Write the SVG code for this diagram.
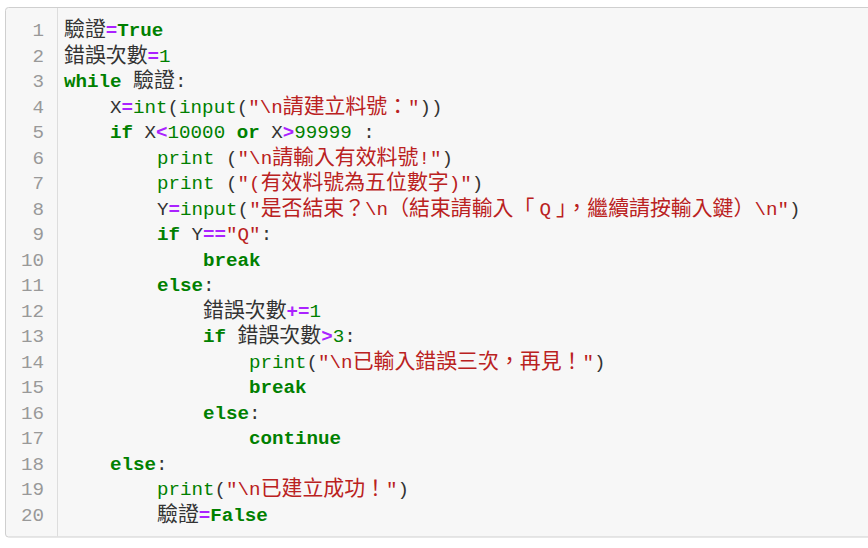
<svg xmlns="http://www.w3.org/2000/svg" width="868" height="548" viewBox="0 0 868 548">
<style>
text{font-family:"Liberation Mono","DejaVu Sans Mono",monospace;font-size:19.2px;fill:#333;white-space:pre}
.ln{fill:#999;text-anchor:end}
.k{fill:#008000;font-weight:bold}
.b{fill:#008000}
.n{fill:#008000}
.o{fill:#aa22ff;font-weight:bold}
.s{fill:#ba2121}
.c{font-family:"Noto Sans CJK TC","Noto Sans CJK SC",sans-serif;font-size:20.9px;font-weight:normal}
</style>
<rect x="5.5" y="7.5" width="900" height="529.5" rx="3" fill="#f7f7f7" stroke="#cfcfcf"/>
<line x1="57.5" y1="8" x2="57.5" y2="536.5" stroke="#ddd"/>
<g id="gutter">
<text class="ln" x="44" y="36">1</text>
<text class="ln" x="44" y="61.5">2</text>
<text class="ln" x="44" y="87">3</text>
<text class="ln" x="44" y="112.5">4</text>
<text class="ln" x="44" y="138">5</text>
<text class="ln" x="44" y="163.5">6</text>
<text class="ln" x="44" y="189">7</text>
<text class="ln" x="44" y="214.5">8</text>
<text class="ln" x="44" y="240">9</text>
<text class="ln" x="44" y="265.5">10</text>
<text class="ln" x="44" y="291">11</text>
<text class="ln" x="44" y="316.5">12</text>
<text class="ln" x="44" y="342">13</text>
<text class="ln" x="44" y="367.5">14</text>
<text class="ln" x="44" y="393">15</text>
<text class="ln" x="44" y="418.5">16</text>
<text class="ln" x="44" y="444">17</text>
<text class="ln" x="44" y="469.5">18</text>
<text class="ln" x="44" y="495">19</text>
<text class="ln" x="44" y="520.5">20</text>
</g>
<g id="code">
<text x="64" y="36"><tspan class="c">驗證</tspan><tspan class="o">=</tspan><tspan class="k">True</tspan></text>
<text x="64" y="61.5"><tspan class="c">錯誤次數</tspan><tspan class="o">=</tspan><tspan class="n">1</tspan></text>
<text x="64" y="87"><tspan class="k">while</tspan> <tspan class="c">驗證</tspan>:</text>
<text x="110" y="112.5">X<tspan class="o">=</tspan><tspan class="b">int</tspan>(<tspan class="b">input</tspan>(<tspan class="s">"\n</tspan><tspan class="s c">請建立料號：</tspan><tspan class="s">"</tspan>))</text>
<text x="110" y="138"><tspan class="k">if</tspan> X<tspan class="o">&lt;</tspan><tspan class="n">10000</tspan> <tspan class="k">or</tspan> X<tspan class="o">&gt;</tspan><tspan class="n">99999</tspan> :</text>
<text x="157" y="163.5"><tspan class="b">print</tspan> (<tspan class="s">"\n</tspan><tspan class="s c">請輸入有效料號</tspan><tspan class="s">!"</tspan>)</text>
<text x="157" y="189"><tspan class="b">print</tspan> (<tspan class="s">"(</tspan><tspan class="s c">有效料號為五位數字</tspan><tspan class="s">)"</tspan>)</text>
<text x="157" y="214.5">Y<tspan class="o">=</tspan><tspan class="b">input</tspan>(<tspan class="s">"</tspan><tspan class="s c">是否結束？</tspan><tspan class="s">\n</tspan><tspan class="s c">（結束請輸入「</tspan><tspan class="s" dx="5">Q</tspan><tspan class="s c" dx="5">」，繼續請按輸入鍵）</tspan><tspan class="s">\n"</tspan>)</text>
<text x="157" y="240"><tspan class="k">if</tspan> Y<tspan class="o">==</tspan><tspan class="s">"Q"</tspan>:</text>
<text x="203" y="265.5"><tspan class="k">break</tspan></text>
<text x="157" y="291"><tspan class="k">else</tspan>:</text>
<text x="203" y="316.5"><tspan class="c">錯誤次數</tspan><tspan class="o">+=</tspan><tspan class="n">1</tspan></text>
<text x="203" y="342"><tspan class="k">if</tspan> <tspan class="c">錯誤次數</tspan><tspan class="o">&gt;</tspan><tspan class="n">3</tspan>:</text>
<text x="249" y="367.5"><tspan class="b">print</tspan>(<tspan class="s">"\n</tspan><tspan class="s c">已輸入錯誤三次，再見！</tspan><tspan class="s">"</tspan>)</text>
<text x="249" y="393"><tspan class="k">break</tspan></text>
<text x="203" y="418.5"><tspan class="k">else</tspan>:</text>
<text x="249" y="444"><tspan class="k">continue</tspan></text>
<text x="110" y="469.5"><tspan class="k">else</tspan>:</text>
<text x="157" y="495"><tspan class="b">print</tspan>(<tspan class="s">"\n</tspan><tspan class="s c">已建立成功！</tspan><tspan class="s">"</tspan>)</text>
<text x="157" y="520.5"><tspan class="c">驗證</tspan><tspan class="o">=</tspan><tspan class="k">False</tspan></text>
</g>
</svg>
